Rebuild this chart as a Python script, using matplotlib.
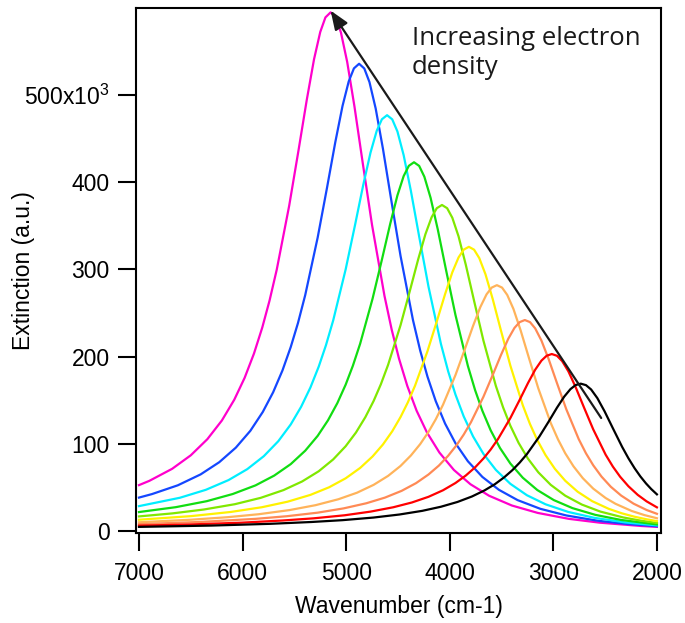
import matplotlib
matplotlib.use("Agg")
import matplotlib.pyplot as plt

plt.rcParams["font.family"] = ["Liberation Sans", "DejaVu Sans"]
plt.rcParams["mathtext.fontset"] = "custom"
plt.rcParams["mathtext.rm"] = "Liberation Sans"

# ── data (extinction in units of 10^3) ────────────────────────────────────────
wn_magenta = [7000, 6900, 6680, 6500, 6340, 6200, 6080, 5980, 5890, 5810, 5740, 5670, 5550, 5460,
              5380, 5310, 5250, 5200, 5150, 5100, 5050, 4990, 4920, 4840, 4750, 4630, 4560, 4490,
              4410, 4320, 4220, 4100, 3960, 3800, 3620, 3400, 3150, 2850, 2550, 2150, 2000]
ext_magenta = [52.6, 57.5, 71.3, 86.8, 105.3, 126.7, 150.6, 175.7, 203.5, 233.3, 264.1, 299.8, 373.1, 436.6,
               494.7, 541.2, 572.5, 589.2, 595.0, 589.1, 571.7, 538.1, 487.1, 422.2, 351.0, 269.7, 230.8, 197.8,
               166.5, 138.0, 113.0, 90.0, 70.0, 53.6, 40.4, 29.2, 20.7, 13.9, 9.5, 5.7, 4.7]

wn_blue = [7000, 6875, 6625, 6405, 6225, 6065, 5925, 5805, 5705, 5615, 5535, 5465, 5395, 5275,
           5185, 5105, 5035, 4975, 4925, 4875, 4825, 4775, 4715, 4645, 4565, 4475, 4355, 4285,
           4215, 4135, 4045, 3945, 3825, 3685, 3525, 3345, 3125, 2875, 2575, 2275, 2000]
ext_blue = [38.3, 42.3, 52.4, 64.9, 78.9, 95.6, 114.9, 136.5, 159.1, 184.1, 211.0, 238.6, 270.7, 336.6,
            393.6, 445.9, 487.6, 515.8, 530.7, 536.0, 530.6, 515.0, 484.7, 438.6, 379.9, 315.6, 242.0, 206.9,
            177.1, 148.9, 123.2, 100.7, 80.0, 62.0, 47.2, 35.4, 25.4, 17.8, 11.8, 7.9, 5.4]

wn_cyan = [7000, 6605, 6355, 6135, 5955, 5795, 5655, 5535, 5435, 5345, 5265, 5195, 5125, 5005,
           4915, 4835, 4765, 4705, 4655, 4605, 4555, 4505, 4445, 4375, 4295, 4205, 4085, 4015,
           3945, 3865, 3775, 3675, 3555, 3415, 3255, 3075, 2855, 2605, 2305, 2000]
ext_cyan = [28.5, 38.1, 47.2, 58.4, 70.9, 85.8, 103.0, 122.2, 142.4, 164.6, 188.5, 213.1, 241.6, 300.0,
            350.6, 397.0, 434.0, 459.0, 472.3, 477.0, 472.2, 458.3, 431.2, 390.1, 337.7, 280.2, 214.5, 183.1,
            156.6, 131.4, 108.5, 88.5, 70.1, 54.1, 41.0, 30.6, 21.8, 15.1, 9.8, 6.4]

wn_green = [7000, 6645, 6345, 6095, 5875, 5695, 5535, 5395, 5275, 5175, 5085, 5005, 4935, 4865,
            4745, 4655, 4575, 4505, 4445, 4395, 4345, 4295, 4245, 4185, 4115, 4035, 3945, 3825,
            3755, 3685, 3605, 3515, 3415, 3295, 3155, 2995, 2815, 2595, 2345, 2000]
ext_green = [21.7, 27.3, 34.2, 42.4, 52.3, 63.5, 76.7, 92.1, 109.1, 127.0, 146.7, 167.8, 189.6, 214.8,
             266.5, 311.2, 352.2, 385.0, 407.1, 418.9, 423.0, 418.8, 406.4, 382.3, 345.7, 299.0, 247.9, 189.4,
             161.5, 137.9, 115.5, 95.2, 77.4, 61.1, 47.0, 35.4, 26.2, 18.5, 12.6, 7.5]

wn_lime = [7000, 6675, 6375, 6075, 5825, 5605, 5425, 5265, 5125, 5005, 4905, 4815, 4735, 4665,
           4595, 4475, 4385, 4305, 4235, 4175, 4125, 4075, 4025, 3975, 3915, 3845, 3765, 3675,
           3555, 3485, 3415, 3335, 3245, 3145, 3025, 2885, 2725, 2545, 2325, 2150, 2000]
ext_lime = [16.7, 20.2, 24.6, 30.7, 38.0, 46.9, 56.8, 68.5, 82.1, 97.2, 113.0, 130.5, 149.1, 168.3,
            190.6, 236.1, 275.5, 311.5, 340.4, 359.9, 370.3, 374.0, 370.3, 359.3, 338.0, 305.4, 264.0, 218.5,
            166.5, 141.8, 120.8, 101.0, 83.0, 67.3, 52.9, 40.5, 30.3, 22.2, 15.5, 11.7, 9.2]

wn_yellow = [7000, 6500, 6115, 5815, 5565, 5345, 5165, 5005, 4865, 4745, 4645, 4555, 4475, 4405,
             4335, 4215, 4125, 4045, 3975, 3915, 3865, 3815, 3765, 3715, 3655, 3585, 3505, 3415,
             3295, 3225, 3155, 3075, 2985, 2885, 2765, 2625, 2465, 2340, 2215, 2100, 2000]
ext_yellow = [12.9, 17.0, 21.8, 27.2, 33.6, 41.4, 50.1, 60.4, 72.3, 85.5, 99.2, 114.4, 130.7, 147.4,
              166.7, 206.2, 240.4, 271.7, 296.8, 313.8, 322.8, 326.0, 322.7, 313.1, 294.5, 266.0, 229.7, 189.8,
              144.3, 122.6, 104.3, 87.0, 71.3, 57.6, 45.0, 34.2, 25.4, 20.3, 16.3, 13.4, 11.3]

wn_ltorange = [7000, 6500, 6145, 5845, 5545, 5295, 5075, 4895, 4735, 4595, 4475, 4375, 4285, 4205,
               4135, 4065, 3945, 3855, 3775, 3705, 3645, 3595, 3545, 3495, 3445, 3385, 3315, 3235,
               3145, 3025, 2955, 2885, 2805, 2715, 2615, 2495, 2400, 2245, 2120, 2000]
ext_ltorange = [10.0, 12.9, 15.8, 19.2, 24.0, 29.6, 36.4, 43.9, 52.9, 63.2, 74.6, 86.6, 99.7, 113.7,
                128.1, 144.8, 178.8, 208.3, 235.2, 256.8, 271.4, 279.2, 282.0, 279.2, 270.8, 254.7, 229.9, 198.3,
                163.6, 123.9, 105.1, 89.1, 74.1, 60.5, 48.6, 37.8, 31.2, 23.0, 18.2, 14.6]

wn_orange = [7000, 6400, 5875, 5575, 5275, 5025, 4805, 4625, 4465, 4325, 4205, 4105, 4015, 3935,
             3865, 3795, 3675, 3585, 3505, 3435, 3375, 3325, 3275, 3225, 3175, 3115, 3045, 2965,
             2875, 2755, 2685, 2615, 2535, 2445, 2345, 2225, 2100, 2000]
ext_orange = [7.8, 10.4, 13.9, 16.9, 21.0, 25.9, 31.8, 38.3, 46.0, 54.9, 64.8, 75.0, 86.3, 98.3,
              110.6, 124.8, 153.9, 179.0, 202.0, 220.5, 233.0, 239.6, 242.0, 239.6, 232.4, 218.5, 197.1, 169.7,
              139.7, 105.4, 89.1, 75.4, 62.4, 50.7, 40.6, 31.3, 24.1, 19.7]

wn_red = [7000, 6500, 6015, 5615, 5315, 5015, 4765, 4545, 4365, 4205, 4065, 3945, 3845, 3755,
          3675, 3605, 3535, 3415, 3325, 3245, 3175, 3115, 3065, 3015, 2965, 2915, 2855, 2785,
          2705, 2615, 2495, 2425, 2355, 2275, 2185, 2100, 2000]
ext_red = [6.1, 7.5, 9.5, 12.0, 14.5, 18.0, 22.2, 27.2, 32.7, 39.2, 46.7, 55.0, 63.6, 73.0,
           83.1, 93.4, 105.3, 129.5, 150.4, 169.6, 185.0, 195.4, 201.0, 203.0, 201.0, 194.9, 183.2, 165.1,
           142.0, 116.6, 87.5, 73.8, 62.2, 51.3, 41.4, 34.0, 27.1]

wn_black = [7000, 6300, 5735, 5335, 5035, 4735, 4485, 4265, 4085, 3925, 3785, 3665, 3565, 3475,
            3395, 3325, 3255, 3135, 3045, 2965, 2895, 2835, 2785, 2735, 2685, 2635, 2575, 2505,
            2425, 2335, 2275, 2215, 2160, 2105, 2055, 2000]
ext_black = [4.7, 6.2, 8.2, 10.3, 12.4, 15.4, 18.9, 23.1, 27.8, 33.3, 39.6, 46.5, 53.6, 61.5,
             69.8, 78.4, 88.2, 108.3, 125.5, 141.4, 154.1, 162.7, 167.4, 169.0, 167.3, 162.3, 152.4, 137.2,
             117.8, 96.3, 83.4, 71.9, 62.6, 54.5, 48.1, 42.0]

curves = [
    (wn_magenta, ext_magenta, "#ff00cc"),
    (wn_blue, ext_blue, "#1447ff"),
    (wn_cyan, ext_cyan, "#00eeff"),
    (wn_green, ext_green, "#11dd11"),
    (wn_lime, ext_lime, "#80e800"),
    (wn_yellow, ext_yellow, "#fff200"),
    (wn_ltorange, ext_ltorange, "#ffb35a"),
    (wn_orange, ext_orange, "#ff8a55"),
    (wn_red, ext_red, "#ff0000"),
    (wn_black, ext_black, "#000000"),
]

y_ticks = [0, 100, 200, 300, 400, 500]
y_ticklabels = ["0", "100", "200", "300", "400", "500x10$^{3}$"]
x_ticks = [7000, 6000, 5000, 4000, 3000, 2000]

arrow_tail = (2538, 129.6)
arrow_head = (5150, 597.0)
note = "Increasing electron\ndensity"

# ── figure ─────────────────────────────────────────────────────────────────────
fig = plt.figure(figsize=(6.85, 6.23), dpi=100)
ax = fig.add_axes([0.1985, 0.1445, 0.7664, 0.8427])

for wn, ext, col in curves:
    ax.plot(wn, ext, color=col, lw=1.6, solid_joinstyle="round")

ax.annotate("", xy=arrow_head, xytext=arrow_tail,
            arrowprops=dict(arrowstyle="-|>,head_length=1.15,head_width=0.45",
                            color="#1a1a1a", lw=1.6, shrinkA=0, shrinkB=0))

ax.text(0.526, 0.966, note, transform=ax.transAxes, ha="left", va="top",
        fontsize=18.5, family=["Open Sans", "DejaVu Sans"], color="#1a1a1a",
        linespacing=1.22)

ax.set_xlim(7029, 1961)
ax.set_ylim(-2.3, 600)
ax.set_xticks(x_ticks)
ax.set_yticks(y_ticks)
ax.set_yticklabels(y_ticklabels)

for sp in ax.spines.values():
    sp.set_linewidth(1.5)
ax.tick_params(direction="out", length=13, width=1.5, labelsize=16.5, pad=6)
ax.tick_params(axis="x", pad=8)

ax.set_xlabel("Wavenumber (cm-1)", fontsize=16.5)
ax.set_ylabel("Extinction (a.u.)", fontsize=16.5)
ax.xaxis.set_label_coords(0.5, -0.118)
ax.yaxis.set_label_coords(-0.192, 0.5)

fig.savefig("out.png", dpi=100)
plt.close()
